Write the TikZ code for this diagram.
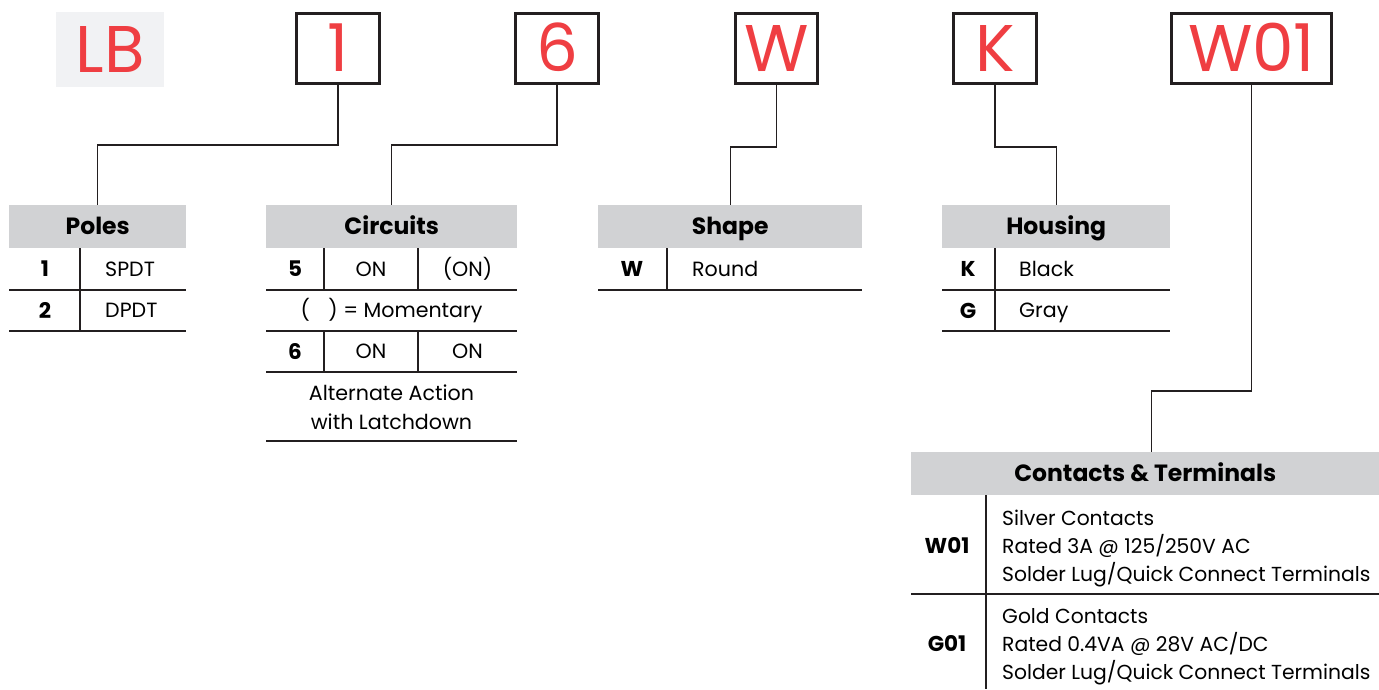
\documentclass[tikz,border=0pt]{standalone}
\usepackage{fontspec}
\setmainfont{Poppins}
\usetikzlibrary{positioning}
\definecolor{codered}{RGB}{239,62,66}
\definecolor{headgray}{RGB}{209,210,212}
\definecolor{lbgray}{RGB}{241,242,244}
\definecolor{rulecol}{RGB}{35,31,32}
\tikzset{
  codebox/.style={draw=rulecol, line width=3pt, minimum height=70pt, inner sep=0pt,
    text=codered, text height=46pt, text depth=0pt, font=\fontsize{66}{66}\selectfont},
  prefixbox/.style={fill=lbgray, minimum width=108pt, minimum height=75pt, inner sep=0pt,
    text=codered, text height=46pt, text depth=0pt, font=\fontsize{66}{66}\selectfont},
  headbox/.style={fill=headgray, minimum height=43pt, inner sep=0pt, anchor=north west,
    text height=16pt, text depth=0pt, font=\fontsize{23.5}{23.5}\selectfont\bfseries},
  cell/.style={inner sep=0pt, text height=14.5pt, text depth=0pt, font=\fontsize{20.6}{20.6}\selectfont},
  keycell/.style={cell, text height=15pt, font=\fontsize{21.5}{21.5}\selectfont\bfseries},
  note/.style={inner sep=0pt, anchor=west, text height=14pt, text depth=0pt, font=\fontsize{20.3}{20.3}\selectfont},
  rule/.style={draw=rulecol, line width=1.4pt},
  link/.style={draw=rulecol, line width=1.4pt},
}
\begin{document}
\begin{tikzpicture}[x=1pt, y=-1pt]
  \useasboundingbox (0,0) rectangle (1379,689);

  % part number boxes
  \node[prefixbox] (lb) at (110,49.5) {LB};
  \node[codebox, minimum width=83pt] (pole) at (338,48.5) {1};
  \node[codebox, minimum width=83pt] (circ) at (557,48.5) {6};
  \node[codebox, minimum width=82pt] (shp) at (776.5,48.5) {W};
  \node[codebox, minimum width=83pt] (hous) at (995,48.5) {K};
  \node[codebox, minimum width=160pt] (cont) at (1251.5,48.5) {W01};

  % table headers
  \node[headbox, minimum width=177pt] (polesH) at (9,205) {Poles};
  \node[headbox, minimum width=251pt] (circH) at (266,205) {Circuits};
  \node[headbox, minimum width=264pt] (shapeH) at (598,205) {Shape};
  \node[headbox, minimum width=228pt] (housH) at (942,205) {Housing};
  \node[headbox, minimum width=468pt] (contH) at (911,452) {Contacts \& Terminals};

  % links from the boxes down to the tables
  \draw[link] (pole.south) -- (pole.south |- 0,145) -| (polesH.north);
  \draw[link] (circ.south) -- (circ.south |- 0,145) -| (circH.north);
  \draw[link] (shp.south) -- (shp.south |- 0,147) -| (shapeH.north);
  \draw[link] (hous.south) -- (hous.south |- 0,147) -| (housH.north);
  \draw[link] (cont.south) -- (cont.south |- 0,391) -| ([xshift=6pt]contH.north);

  % Poles
  \foreach \y in {290,331} \draw[rule] (9,\y) -- (186,\y);
  \draw[rule] (80,248) -- (80,331);
  \node[keycell] (p1) at (45,269) {1};
  \node[cell, anchor=west] (p1t) at (105,269) {SPDT};
  \node[keycell] (p2) at (45,310.5) {2};
  \node[cell, anchor=west] (p2t) at (105,310.5) {DPDT};

  % Circuits
  \foreach \y in {290,331,372,441} \draw[rule] (266,\y) -- (517,\y);
  \foreach \x in {324,418} {
    \draw[rule] (\x,248) -- (\x,290);
    \draw[rule] (\x,331) -- (\x,372);
  }
  \node[keycell] (c5) at (295,269) {5};
  \node[cell] (c5a) at (371,269) {ON};
  \node[cell] (c5b) at (467.5,269) {(ON)};
  \node[cell] (cmom) at (391.5,310.5) {(\hspace{0.9em}) = Momentary};
  \node[keycell] (c6) at (295,351.5) {6};
  \node[cell] (c6a) at (371,351.5) {ON};
  \node[cell] (c6b) at (467.5,351.5) {ON};
  \node[cell] (calt) at (391.5,393) {Alternate Action};
  \node[cell] (clat) at (391.5,422) {with Latchdown};

  % Shape
  \draw[rule] (598,290) -- (862,290);
  \draw[rule] (667,248) -- (667,290);
  \node[keycell] (sw) at (632,269) {W};
  \node[cell, anchor=west] (swt) at (692,269) {Round};

  % Housing
  \foreach \y in {290,331} \draw[rule] (942,\y) -- (1170,\y);
  \draw[rule] (995,248) -- (995,331);
  \node[keycell] (hk) at (968,269) {K};
  \node[cell, anchor=west] (hkt) at (1019,269) {Black};
  \node[keycell] (hg) at (968,310.5) {G};
  \node[cell, anchor=west] (hgt) at (1019,310.5) {Gray};

  % Contacts & Terminals
  \draw[rule] (911,594) -- (1379,594);
  \draw[rule] (986,495) -- (986,689);
  \node[keycell] (tw) at (947,546) {W01};
  \node[keycell] (tg) at (947,644) {G01};
  \foreach \t [count=\i] in {Silver Contacts, Rated 3A @ 125/250V AC, Solder Lug/Quick Connect Terminals}
    \node[note] (tw\i) at (1002,490+28*\i) {\t};
  \foreach \t [count=\i] in {Gold Contacts, Rated 0.4VA @ 28V AC/DC, Solder Lug/Quick Connect Terminals}
    \node[note] (tg\i) at (1002,588+28*\i) {\t};
\end{tikzpicture}
\end{document}
